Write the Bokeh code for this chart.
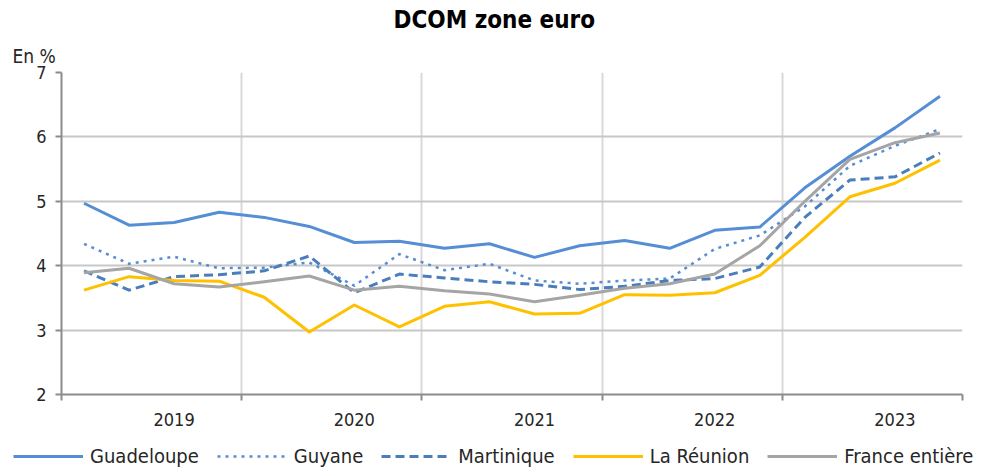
from bokeh.plotting import figure
from bokeh.layouts import column
from bokeh.models import Range1d, FixedTicker, Legend, LegendItem, Title
from bokeh.embed import file_html
from bokeh.resources import INLINE

title_text = "DCOM zone euro"
unit_text = "En %"
years = ["2019", "2020", "2021", "2022", "2023"]
quarters_per_year = 4
y_ticks = [2, 3, 4, 5, 6, 7]

guadeloupe = [4.97, 4.63, 4.67, 4.83, 4.75, 4.61, 4.36, 4.38, 4.27, 4.34,
              4.13, 4.31, 4.39, 4.27, 4.55, 4.60, 5.21, 5.70, 6.14, 6.63]
guyane = [4.34, 4.03, 4.14, 3.96, 3.97, 4.05, 3.69, 4.18, 3.93, 4.03,
          3.77, 3.72, 3.77, 3.80, 4.26, 4.47, 4.92, 5.55, 5.86, 6.12]
martinique = [3.92, 3.62, 3.83, 3.86, 3.92, 4.15, 3.58, 3.87, 3.81, 3.75,
              3.71, 3.63, 3.68, 3.77, 3.80, 3.98, 4.75, 5.33, 5.38, 5.75]
reunion = [3.62, 3.83, 3.77, 3.76, 3.51, 2.97, 3.39, 3.05, 3.37, 3.44,
           3.25, 3.26, 3.55, 3.54, 3.58, 3.85, 4.44, 5.07, 5.28, 5.64]
france = [3.89, 3.96, 3.72, 3.67, 3.75, 3.84, 3.62, 3.68, 3.61, 3.56,
          3.44, 3.54, 3.65, 3.72, 3.87, 4.31, 5.00, 5.65, 5.91, 6.06]

series = [
    ("Guadeloupe", guadeloupe, "#558ED5", "solid", 3),
    ("Guyane", guyane, "#558ED5", "3 5", 2.5),
    ("Martinique", martinique, "#4A7EBB", "9 5", 3),
    ("La Réunion", reunion, "#FFC000", "solid", 3),
    ("France entière", france, "#A5A5A5", "solid", 3),
]

n = len(guadeloupe)
x = list(range(n))
FONT = "'DejaVu Sans Condensed', 'DejaVu Sans'"
TXT = "#262626"

p = figure(width=987, height=435, output_backend="svg", toolbar_location=None,
           x_range=Range1d(-0.5, n - 0.5), y_range=Range1d(min(y_ticks), max(y_ticks)),
           min_border_left=61, min_border_right=25, min_border_top=71, min_border_bottom=41)
p.title.text = ""
p.outline_line_color = None
p.background_fill_color = "white"
p.border_fill_color = "white"

boundaries = [-0.5 + quarters_per_year * k for k in range(len(years) + 1)]
label_pos = [quarters_per_year * k + 2 for k in range(len(years))]  # label sits on Q3

# x axis
xa = p.xaxis[0]
xa.ticker = FixedTicker(ticks=label_pos, minor_ticks=boundaries)
xa.major_label_overrides = {c: y for c, y in zip(label_pos, years)}
xa.major_tick_out = 0
xa.major_tick_in = 0
xa.minor_tick_out = 6
xa.minor_tick_in = 0
xa.minor_tick_line_color = "#8C8C8C"
xa.minor_tick_line_width = 2
xa.axis_line_color = "#8C8C8C"
xa.axis_line_width = 2
xa.major_label_text_font = FONT
xa.major_label_text_font_size = "18px"
xa.major_label_text_color = TXT
xa.major_label_standoff = 12

# y axis
ya = p.yaxis[0]
ya.ticker = FixedTicker(ticks=y_ticks, minor_ticks=[])
ya.major_tick_out = 6
ya.major_tick_in = 0
ya.major_tick_line_color = "#8C8C8C"
ya.major_tick_line_width = 2
ya.axis_line_color = "#8C8C8C"
ya.axis_line_width = 2
ya.major_label_text_font = FONT
ya.major_label_text_font_size = "18px"
ya.major_label_text_color = TXT
ya.major_label_standoff = 9

# grids
p.xgrid.ticker = FixedTicker(ticks=boundaries)
p.xgrid.grid_line_color = "#D9D9D9"
p.xgrid.grid_line_width = 2
p.ygrid.ticker = FixedTicker(ticks=y_ticks)
p.ygrid.grid_line_color = "#C8C8C8"
p.ygrid.grid_line_width = 2

for name, vals, color, dash, w in series:
    p.line(x, vals, line_color=color, line_width=w, line_dash=dash, line_join="round")

p.add_layout(Title(text=unit_text, align="left", offset=-49, vertical_align="middle",
                   standoff=9, text_font=FONT, text_font_size="19px",
                   text_font_style="normal", text_color=TXT), "above")
p.add_layout(Title(text=title_text, align="left", offset=332, vertical_align="middle",
                   standoff=9, text_font=FONT, text_font_size="24px",
                   text_font_style="bold", text_color="black"), "above")

# legend strip below the chart (its own frame spans the full width)
lg = figure(width=987, height=34, output_backend="svg", toolbar_location=None,
            x_range=Range1d(-0.5, n - 0.5), y_range=Range1d(100, 101),
            x_axis_type=None, y_axis_type=None,
            min_border_left=0, min_border_right=0, min_border_top=0, min_border_bottom=0)
lg.title.text = ""
lg.outline_line_color = None
lg.xgrid.visible = False
lg.ygrid.visible = False
for plot in (p, lg):
    try:
        plot.frame_align = False
    except Exception:
        pass
items = []
for name, vals, color, dash, w in series:
    # same series, outside this strip's visible range: only the legend sample shows
    r = lg.line(x, vals, line_color=color, line_width=w, line_dash=dash)
    items.append(LegendItem(label=name, renderers=[r]))

legend = Legend(items=items, orientation="horizontal", location=(13, 1),
                glyph_width=70, glyph_height=20, label_standoff=7, spacing=18,
                padding=0, margin=0, border_line_alpha=0, background_fill_alpha=0,
                label_text_font=FONT, label_text_font_size="20px", label_text_color=TXT)
lg.add_layout(legend, "center")

layout = column(p, lg, spacing=0)
open("out.html", "w").write(file_html(layout, INLINE))
